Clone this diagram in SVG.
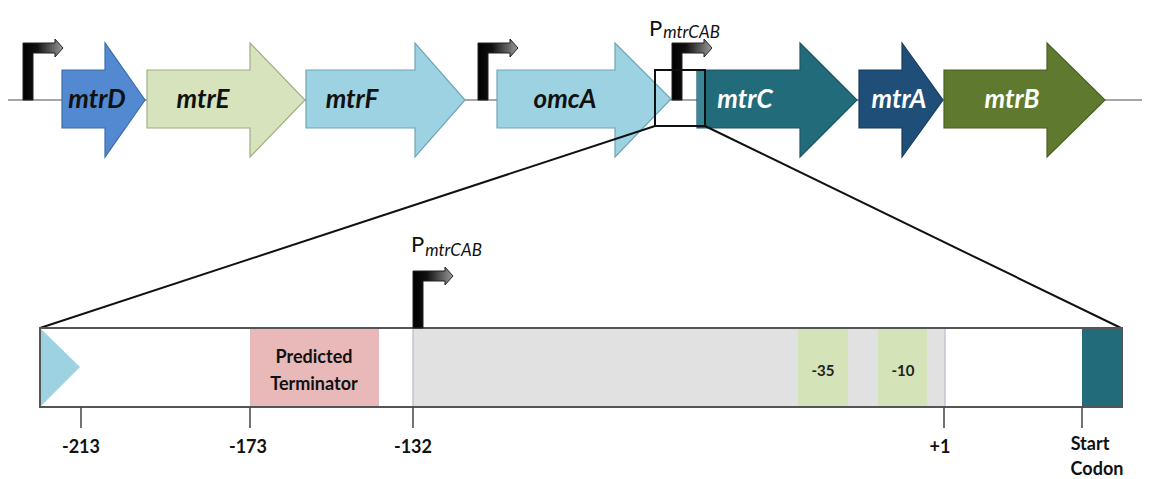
<svg xmlns="http://www.w3.org/2000/svg" width="1152" height="479" viewBox="0 0 1152 479">
  <style>
    .gene { stroke-width: 1.2; }
    .glabel { font-family: Lato, "Liberation Sans", sans-serif; font-weight: bold; font-style: italic; font-size: 26px; text-anchor: middle; }
    .dark { fill: #111; }
    .light { fill: #fff; }
    .tick { stroke: #444; stroke-width: 1.5; }
    .num { font-family: Lato, "Liberation Sans", sans-serif; font-weight: bold; font-size: 18px; text-anchor: middle; fill: #111; }
    .box { font-family: Lato, "Liberation Sans", sans-serif; font-weight: bold; font-size: 15px; text-anchor: middle; fill: #222; }
    .plabel { font-family: Lato, "Liberation Sans", sans-serif; font-size: 22px; fill: #111; }
    .psub { font-size: 17px; font-style: italic; }
    .zoom { stroke: #111; stroke-width: 2; fill: none; }
  </style>
  <defs>
    <linearGradient id="promGrad" x1="0" y1="0" x2="1" y2="0">
      <stop offset="0" stop-color="#000"/>
      <stop offset="0.35" stop-color="#111"/>
      <stop offset="1" stop-color="#9a9a9a"/>
    </linearGradient>
    <!-- bent arrow marking a transcription start, origin at foot of the bar -->
    <path id="promoter" d="M0,0 V-57 H32 V-61 L40,-52 L32,-43 V-47 H10 V0 Z" fill="url(#promGrad)" stroke="#222" stroke-width="1"/>
  </defs>

  <!-- DNA backbone -->
  <line x1="8" y1="100" x2="1142" y2="100" stroke="#888" stroke-width="1.5"/>

  <!-- operon genes -->
  <g id="mtrD">
    <path class="gene" d="M62,70 H105 V43 L145,100 L105,157 V128 H62 Z" fill="#5289d0" stroke="#3d6ea8"/>
    <text class="glabel dark" x="97" y="108">mtrD</text>
  </g>
  <g id="mtrE">
    <path class="gene" d="M147,70 H250 V43 L305,100 L250,157 V128 H147 Z" fill="#d6e3bc" stroke="#9fae82"/>
    <text class="glabel dark" x="203" y="108">mtrE</text>
  </g>
  <g id="mtrF">
    <path class="gene" d="M306,70 H415 V43 L465,100 L415,157 V128 H306 Z" fill="#9dd2e2" stroke="#6fa5b5"/>
    <text class="glabel dark" x="352" y="108">mtrF</text>
  </g>
  <g id="omcA">
    <path class="gene" d="M497,70 H615 V43 L671,99 L615,157 V128 H497 Z" fill="#9dd2e2" stroke="#6fa5b5"/>
    <text class="glabel dark" x="565" y="108">omcA</text>
  </g>
  <g id="mtrC">
    <path class="gene" d="M697,70 H800 V43 L857,100 L800,157 V128 H697 Z" fill="#226b7a" stroke="#1a5662"/>
    <rect x="697" y="71" width="8" height="56" fill="#3c8796"/>
    <text class="glabel light" x="745" y="108">mtrC</text>
  </g>
  <g id="mtrA">
    <path class="gene" d="M859,70 H902 V43 L943,100 L902,157 V128 H859 Z" fill="#1f4e79" stroke="#173c5d"/>
    <text class="glabel light" x="899" y="108">mtrA</text>
  </g>
  <g id="mtrB">
    <path class="gene" d="M944,70 H1047 V43 L1105,100 L1047,157 V128 H944 Z" fill="#5f7a2e" stroke="#4b6124"/>
    <text class="glabel light" x="1012" y="108">mtrB</text>
  </g>

  <!-- promoters on the operon -->
  <g id="promoter1"><use href="#promoter" x="23" y="100"/></g>
  <g id="promoter2"><use href="#promoter" x="478" y="100"/></g>
  <g id="promoter3">
    <use href="#promoter" x="672" y="100"/>
    <text class="plabel" x="649" y="36">P<tspan class="psub" dx="1" dy="2">mtrCAB</tspan></text>
  </g>

  <!-- zoomed window and its projection lines -->
  <g id="connectors">
    <rect class="zoom" x="655" y="70" width="50" height="56"/>
    <line class="zoom" x1="655" y1="126" x2="40" y2="328"/>
    <line class="zoom" x1="705" y1="126" x2="1121" y2="328"/>
  </g>

  <!-- expanded intergenic region -->
  <g id="region">
    <rect x="40" y="328" width="1082" height="79" fill="#fff"/>
    <path d="M40,328 L80,367 L40,407 Z" fill="#9dd2e2"/>
    <rect x="413" y="328" width="532" height="79" fill="#e1e1e1"/>
    <line x1="413" y1="328" x2="413" y2="407" stroke="#c8c0dc" stroke-width="1.5"/>
    <line x1="945" y1="328" x2="945" y2="407" stroke="#c8c0dc" stroke-width="1.5"/>
    <rect x="1082" y="328" width="40" height="79" fill="#226b7a"/>
    <rect x="40" y="328" width="1082" height="79" fill="none" stroke="#555" stroke-width="2"/>
  </g>
  <g id="terminator">
    <rect x="250" y="329" width="129" height="77" fill="#e8b9b8"/>
    <text class="num" x="314" y="363" font-size="19">Predicted</text>
    <text class="num" x="314" y="390" font-size="19">Terminator</text>
  </g>
  <g id="box35">
    <rect x="798" y="329" width="50" height="77" fill="#d5e3b9"/>
    <text class="box" x="823" y="376">-35</text>
  </g>
  <g id="box10">
    <rect x="878" y="329" width="49" height="77" fill="#d5e3b9"/>
    <text class="box" x="903" y="376">-10</text>
  </g>
  <g id="promoterExpanded">
    <use href="#promoter" x="413" y="328"/>
    <text class="plabel" x="411" y="252">P<tspan class="psub" dx="1" dy="4">mtrCAB</tspan></text>
  </g>

  <!-- position scale -->
  <g id="scale">
    <line class="tick" x1="81" y1="407" x2="81" y2="428"/>
    <line class="tick" x1="250" y1="407" x2="250" y2="428"/>
    <line class="tick" x1="413" y1="407" x2="413" y2="428"/>
    <line class="tick" x1="944" y1="407" x2="944" y2="428"/>
    <line class="tick" x1="1082" y1="407" x2="1082" y2="428"/>
    <text class="num" x="81" y="453">-213</text>
    <text class="num" x="248" y="453">-173</text>
    <text class="num" x="413" y="453">-132</text>
    <text class="num" x="940" y="453">+1</text>
    <text class="num" x="1090" y="450">Start</text>
    <text class="num" x="1097" y="475">Codon</text>
  </g>
</svg>
